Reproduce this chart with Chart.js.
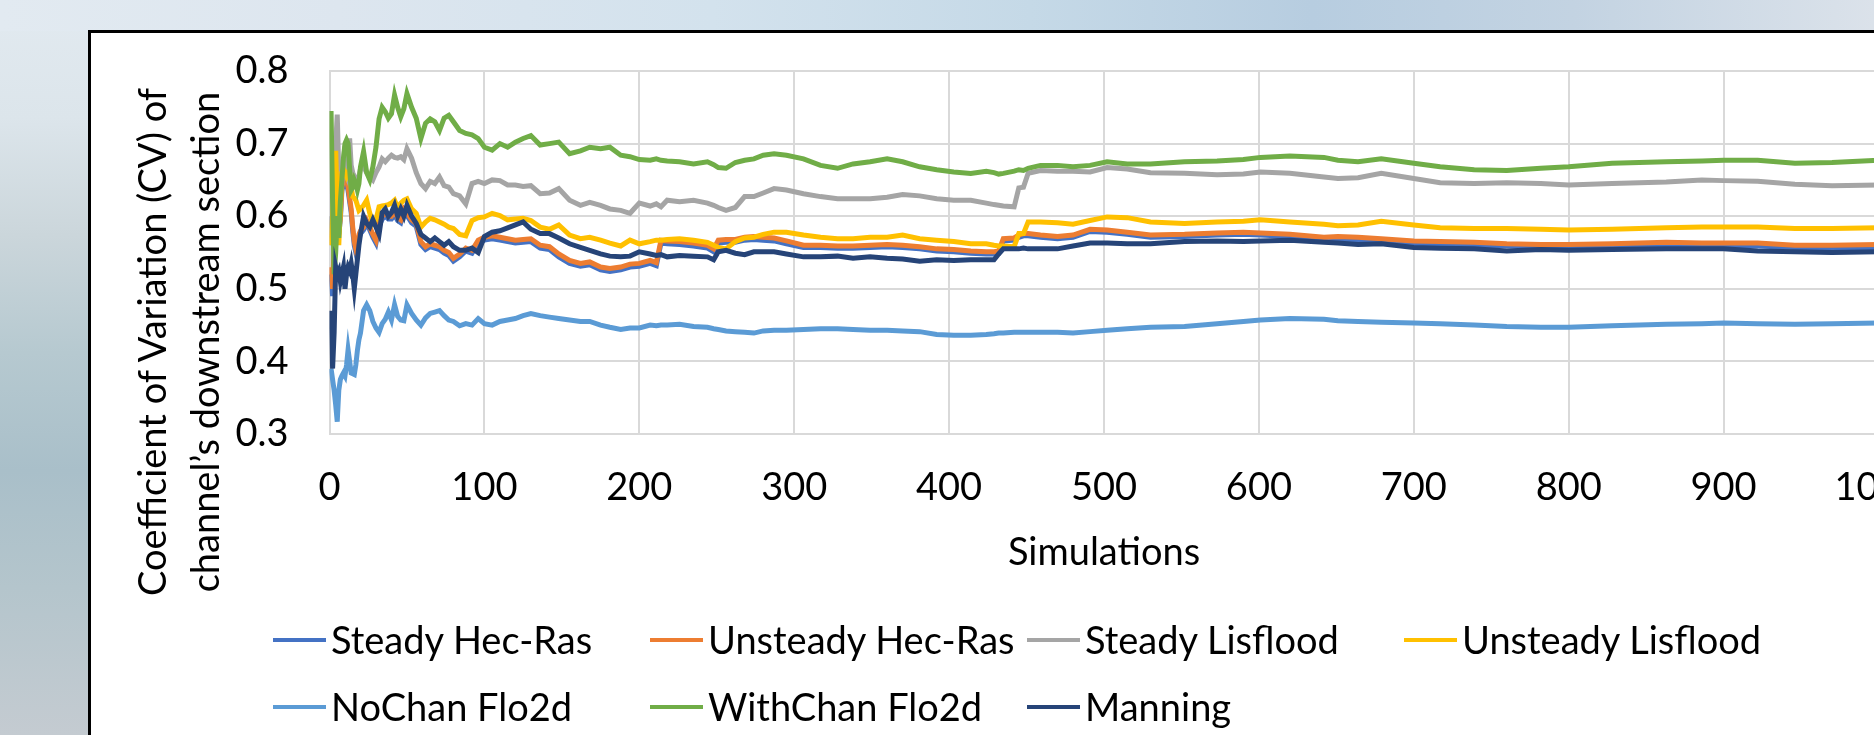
<!DOCTYPE html>
<html>
<head>
<meta charset="utf-8">
<title>CV of channel's downstream section</title>
<script src="https://cdn.jsdelivr.net/npm/chart.js@4.4.0/dist/chart.umd.min.js"></script>
<style>
  html, body { margin: 0; padding: 0; width: 1874px; height: 735px; overflow: hidden; }
  body {
    position: relative;
    font-family: Lato, "Open Sans", sans-serif;
    background:
      linear-gradient(to right, #e2eaf1 0%, #dde6ef 18%, #d3e2ed 38%, #c5d9e7 55%, #b7cde0 70%, #c3d3e2 84%, #dbe2ea 100%) top left / 100% 31px no-repeat,
      linear-gradient(to bottom, #e2eaf0 0%, #dce5eb 16%, #cbd6db 32%, #b6c9d0 48%, #a9bfc9 64%, #b4c5cc 80%, #c4cbd1 100%);
  }
  #frame {
    position: absolute; left: 88px; top: 30px; width: 1900px; height: 800px;
    background: #fff; border: 3px solid #000; box-sizing: border-box;
  }
  #cv-chart { position: absolute; left: 0; top: 0; }
  .axis-title {
    position: absolute; width: 800px; height: 38px; line-height: 38px;
    font-size: 38px; color: #000; text-align: center; white-space: nowrap;
    transform: rotate(-90deg);
  }
  .legend-mark { position: absolute; width: 53px; height: 4px; }
  .legend-text {
    position: absolute; height: 38px; line-height: 38px; font-size: 38px;
    color: #000; white-space: nowrap;
  }
</style>
</head>
<body>
<div id="frame"></div>
<canvas id="cv-chart" width="1960" height="735"></canvas>
<div id="overlay"></div>
<script>
// Number of simulations at which the running CV was sampled
const simulations = [
  1, 2, 3, 4, 5, 6, 7, 8, 9, 10, 11, 12, 13, 14, 15, 16, 17, 18, 19, 20,
  22, 24, 26, 28, 30, 32, 34, 36, 38, 40, 42, 44, 46, 48, 50,
  53, 56, 59, 62, 65, 68, 71, 74, 77, 80, 84, 88, 92, 96, 100,
  105, 110, 115, 120, 125,
  130, 136, 142, 148, 155, 162, 168, 175, 181, 188, 194, 200, 207, 211, 214,
  218, 226, 235, 244, 248, 251, 256, 262, 268, 274, 280, 287, 295, 306, 317,
  328, 338, 349, 360, 370, 381, 392, 403, 414, 424, 429, 432, 435, 442, 445,
  448, 451, 459, 470, 480, 491, 502, 515, 530, 552, 573, 590, 601, 620, 642,
  651, 664, 679, 700, 717, 739, 760, 782, 800, 828, 863, 886, 900, 922, 946,
  970, 1000
];

const steadyHecRas = [
  0.52, 0.49, 0.55, 0.595, 0.615, 0.575, 0.595, 0.635, 0.645, 0.65,
  0.645, 0.635, 0.62, 0.605, 0.58, 0.56, 0.55, 0.555, 0.57, 0.576,
  0.581, 0.59, 0.581, 0.571, 0.563, 0.586, 0.596, 0.6, 0.596, 0.596,
  0.602, 0.594, 0.591, 0.606, 0.601, 0.591, 0.586, 0.561, 0.554, 0.558,
  0.556, 0.554, 0.549, 0.546, 0.538, 0.544, 0.552, 0.549, 0.563, 0.567,
  0.569, 0.567, 0.565, 0.563, 0.564,
  0.565, 0.556, 0.554, 0.544, 0.535, 0.531, 0.533, 0.526, 0.524, 0.526,
  0.53, 0.531, 0.535, 0.532, 0.563, 0.562, 0.561, 0.559, 0.556, 0.551,
  0.563, 0.564, 0.564, 0.567, 0.568, 0.567, 0.566, 0.562, 0.557, 0.557,
  0.556, 0.556, 0.557, 0.558, 0.557, 0.555, 0.552, 0.551, 0.549, 0.548,
  0.548, 0.549, 0.566, 0.567, 0.571, 0.573, 0.573, 0.571, 0.569, 0.571,
  0.579, 0.578, 0.575, 0.571, 0.572, 0.574, 0.575, 0.574, 0.572, 0.568,
  0.569, 0.567, 0.565, 0.562, 0.561, 0.56, 0.559, 0.558, 0.558, 0.559,
  0.56, 0.56, 0.559, 0.559, 0.557, 0.557, 0.557
];

const unsteadyHecRas = [
  0.53, 0.5, 0.56, 0.6, 0.62, 0.58, 0.6, 0.64, 0.65, 0.655,
  0.65, 0.64, 0.625, 0.61, 0.585, 0.565, 0.555, 0.56, 0.575, 0.58,
  0.585, 0.594, 0.585, 0.575, 0.567, 0.59, 0.6, 0.604, 0.6, 0.6,
  0.606, 0.598, 0.595, 0.61, 0.605, 0.595, 0.59, 0.565, 0.558, 0.562,
  0.56, 0.558, 0.553, 0.55, 0.542, 0.548, 0.556, 0.553, 0.567, 0.571,
  0.573, 0.571, 0.569, 0.567, 0.568,
  0.569, 0.56, 0.558, 0.548, 0.539, 0.535, 0.537, 0.53, 0.528, 0.53,
  0.534, 0.535, 0.539, 0.536, 0.567, 0.566, 0.565, 0.563, 0.56, 0.555,
  0.567, 0.568, 0.568, 0.571, 0.572, 0.571, 0.57, 0.566, 0.56, 0.56,
  0.559, 0.559, 0.56, 0.561, 0.56, 0.558, 0.555, 0.554, 0.552, 0.551,
  0.551, 0.552, 0.569, 0.57, 0.574, 0.576, 0.576, 0.574, 0.572, 0.574,
  0.582, 0.581, 0.578, 0.574, 0.575, 0.577, 0.578, 0.577, 0.575, 0.571,
  0.572, 0.571, 0.569, 0.566, 0.565, 0.564, 0.562, 0.561, 0.561, 0.562,
  0.564, 0.563, 0.563, 0.563, 0.56, 0.56, 0.561
];

const steadyLisflood = [
  0.6, 0.56, 0.65, 0.7, 0.74, 0.66, 0.63, 0.645, 0.672, 0.66,
  0.655, 0.69, 0.707, 0.67, 0.66, 0.655, 0.65, 0.648, 0.655, 0.665,
  0.668, 0.66, 0.655, 0.65, 0.66, 0.668, 0.679, 0.675, 0.68, 0.684,
  0.681, 0.68, 0.682, 0.678, 0.693, 0.68, 0.66, 0.645, 0.638, 0.648,
  0.645, 0.654, 0.642, 0.64, 0.631, 0.628, 0.617, 0.645, 0.648, 0.645,
  0.65, 0.649, 0.643, 0.643, 0.641,
  0.642, 0.631, 0.632, 0.638, 0.622, 0.615, 0.619, 0.615, 0.61, 0.608,
  0.604, 0.618, 0.614, 0.617, 0.613, 0.622, 0.62, 0.622, 0.618, 0.615,
  0.612, 0.608, 0.612, 0.627, 0.627, 0.632, 0.638, 0.636, 0.631, 0.627,
  0.624, 0.624, 0.624, 0.626, 0.63, 0.628, 0.624, 0.622, 0.622, 0.618,
  0.616, 0.615, 0.614, 0.613, 0.639, 0.64, 0.659, 0.663, 0.662, 0.662,
  0.661, 0.667, 0.665, 0.66, 0.659, 0.657, 0.658, 0.661, 0.659, 0.654,
  0.652, 0.653, 0.659, 0.652, 0.646, 0.645, 0.646, 0.645, 0.643, 0.645,
  0.647, 0.65, 0.649, 0.648, 0.644, 0.642, 0.643
];

const unsteadyLisflood = [
  0.56, 0.6, 0.66, 0.69, 0.62, 0.56, 0.61, 0.66, 0.665, 0.66,
  0.655, 0.66, 0.659, 0.64, 0.627, 0.625, 0.622, 0.615, 0.608, 0.61,
  0.615, 0.622, 0.604, 0.59, 0.595, 0.613, 0.614, 0.615, 0.616, 0.618,
  0.622, 0.612, 0.618, 0.622, 0.624, 0.61, 0.604, 0.585, 0.592, 0.597,
  0.595, 0.592, 0.589, 0.585, 0.583, 0.575, 0.573, 0.594, 0.598, 0.599,
  0.604, 0.601, 0.595, 0.596, 0.597,
  0.594, 0.585, 0.582, 0.588, 0.574, 0.569, 0.571, 0.567, 0.563, 0.559,
  0.567, 0.562, 0.565, 0.567, 0.567, 0.568, 0.569, 0.567, 0.564, 0.56,
  0.557, 0.555, 0.565, 0.57, 0.571, 0.575, 0.578, 0.578, 0.574, 0.571,
  0.569, 0.569, 0.571, 0.571, 0.574, 0.569, 0.567, 0.565, 0.562, 0.562,
  0.56, 0.559, 0.559, 0.558, 0.576, 0.576, 0.592, 0.592, 0.591, 0.589,
  0.594, 0.599, 0.598, 0.592, 0.59, 0.592, 0.593, 0.595, 0.592, 0.589,
  0.587, 0.588, 0.593, 0.588, 0.584, 0.583, 0.583, 0.582, 0.581, 0.582,
  0.584, 0.585, 0.585, 0.585, 0.583, 0.583, 0.584
];

const noChanFlo2d = [
  0.39, 0.375, 0.36, 0.34, 0.317, 0.36, 0.375, 0.38, 0.384, 0.38,
  0.395, 0.416, 0.4, 0.384, 0.383, 0.382, 0.395, 0.415, 0.43, 0.439,
  0.47, 0.478, 0.47, 0.455, 0.446, 0.44, 0.452, 0.458, 0.468, 0.457,
  0.478, 0.462, 0.457, 0.456, 0.478, 0.466, 0.457, 0.45, 0.46, 0.466,
  0.468, 0.47, 0.463, 0.457, 0.455, 0.449, 0.452, 0.45, 0.459, 0.452,
  0.45, 0.455, 0.457, 0.459, 0.463,
  0.466, 0.463, 0.461, 0.459, 0.457, 0.455, 0.455, 0.45, 0.447, 0.444,
  0.446, 0.446, 0.45, 0.449, 0.45, 0.45, 0.451, 0.448, 0.447, 0.445,
  0.444, 0.442, 0.441, 0.44, 0.439, 0.442, 0.443, 0.443, 0.444, 0.445,
  0.445, 0.444, 0.443, 0.443, 0.442, 0.441, 0.437, 0.436, 0.436, 0.437,
  0.438, 0.439, 0.439, 0.44, 0.44, 0.44, 0.44, 0.44, 0.44, 0.439,
  0.441, 0.443, 0.445, 0.447, 0.448, 0.452, 0.455, 0.457, 0.459, 0.458,
  0.456, 0.455, 0.454, 0.453, 0.452, 0.45, 0.448, 0.447, 0.447, 0.449,
  0.451, 0.452, 0.453, 0.452, 0.451, 0.452, 0.453
];

const withChanFlo2d = [
  0.745, 0.62, 0.52, 0.55, 0.6, 0.57, 0.62, 0.65, 0.68, 0.7,
  0.705, 0.7, 0.665, 0.636, 0.64, 0.65, 0.645, 0.636, 0.645, 0.668,
  0.689, 0.66, 0.65, 0.668, 0.695, 0.734, 0.75, 0.744, 0.735, 0.741,
  0.767, 0.75, 0.737, 0.748, 0.769, 0.75, 0.735, 0.707, 0.728, 0.734,
  0.73, 0.718, 0.735, 0.739, 0.73, 0.718, 0.714, 0.712, 0.707, 0.695,
  0.691, 0.7, 0.695, 0.702, 0.707,
  0.711, 0.698, 0.7, 0.702, 0.686, 0.69, 0.695, 0.693, 0.695, 0.684,
  0.682, 0.678, 0.677, 0.679, 0.677, 0.676, 0.675, 0.672, 0.675, 0.671,
  0.667, 0.666, 0.674, 0.677, 0.679, 0.684, 0.686, 0.684, 0.679, 0.67,
  0.666, 0.672, 0.675, 0.679, 0.675, 0.668, 0.664, 0.661, 0.659, 0.662,
  0.66, 0.658, 0.659, 0.662, 0.664, 0.663, 0.666, 0.67, 0.67, 0.668,
  0.67, 0.675, 0.672, 0.672, 0.675, 0.676, 0.678, 0.681, 0.683, 0.681,
  0.677, 0.675, 0.679, 0.673, 0.668, 0.664, 0.663, 0.666, 0.668, 0.673,
  0.675, 0.676, 0.677, 0.677, 0.673, 0.674, 0.677
];

const manning = [
  0.47, 0.39, 0.44, 0.53, 0.52, 0.525, 0.51, 0.52, 0.53, 0.5,
  0.52, 0.53, 0.525, 0.535, 0.52, 0.5, 0.52, 0.54, 0.56, 0.575,
  0.6, 0.59, 0.585, 0.595, 0.585, 0.575, 0.605, 0.61, 0.6, 0.605,
  0.615, 0.6, 0.61, 0.6, 0.615, 0.6, 0.59, 0.575, 0.57, 0.565,
  0.57, 0.565, 0.56, 0.565, 0.558, 0.553, 0.553, 0.556, 0.55, 0.572,
  0.578, 0.58, 0.584, 0.588, 0.592,
  0.582, 0.576, 0.576, 0.57, 0.562, 0.557, 0.553, 0.548, 0.545, 0.544,
  0.545, 0.551, 0.548, 0.546, 0.547, 0.544, 0.546, 0.545, 0.544, 0.54,
  0.551, 0.553, 0.549, 0.547, 0.551, 0.551, 0.551, 0.548, 0.544, 0.544,
  0.545, 0.542, 0.544, 0.542, 0.541, 0.538, 0.54, 0.539, 0.54, 0.54,
  0.54, 0.548, 0.555, 0.555, 0.555, 0.556, 0.555, 0.555, 0.555, 0.559,
  0.563, 0.563, 0.562, 0.562, 0.565, 0.566, 0.565, 0.566, 0.567, 0.564,
  0.563, 0.561, 0.562, 0.557, 0.556, 0.555, 0.552, 0.554, 0.553, 0.554,
  0.555, 0.555, 0.555, 0.552, 0.551, 0.55, 0.551
];

const seriesLabels = [
  'Steady Hec-Ras', 'Unsteady Hec-Ras', 'Steady Lisflood', 'Unsteady Lisflood',
  'NoChan Flo2d', 'WithChan Flo2d', 'Manning'
];
const seriesValues = [
  steadyHecRas, unsteadyHecRas, steadyLisflood, unsteadyLisflood,
  noChanFlo2d, withChanFlo2d, manning
];
const seriesColors = ['#4472C4', '#ED7D31', '#A5A5A5', '#FFC000', '#5B9BD5', '#70AD47', '#264478'];

const simulationTicks = [0, 100, 200, 300, 400, 500, 600, 700, 800, 900, 1000];
const cvTicks = [0.3, 0.4, 0.5, 0.6, 0.7, 0.8];

const yTitleLines = ['Coefficient of Variation (CV) of', 'channel\u2019s downstream section'];
const xTitle = 'Simulations';

const textFont = { family: 'Lato', size: 38 };
const gridColor = '#d9d9d9';

const datasets = seriesLabels.map((label, i) => ({
  label,
  data: simulations.map((s, j) => ({ x: s, y: seriesValues[i][j] })),
  borderColor: seriesColors[i],
  backgroundColor: seriesColors[i],
  borderWidth: 5,
  pointRadius: 0,
  tension: 0,
  // later series are painted over earlier ones
  order: seriesLabels.length - 1 - i
}));

const chart = new Chart(document.getElementById('cv-chart'), {
  type: 'line',
  data: { datasets },
  options: {
    responsive: false,
    animation: false,
    devicePixelRatio: 1,
    layout: { padding: { left: 0, top: 71, right: 81.5, bottom: 0 } },
    plugins: { legend: { display: false }, tooltip: { enabled: false } },
    scales: {
      x: {
        type: 'linear',
        min: 0, max: 1000,
        afterBuildTicks: (scale) => { scale.ticks = simulationTicks.map(v => ({ value: v })); },
        afterFit: (scale) => { scale.height = 301; },
        ticks: {
          font: textFont, color: '#000', padding: 31, maxRotation: 0, autoSkip: false,
          callback: (v) => String(v)
        },
        grid: { color: gridColor, lineWidth: 2, drawTicks: false },
        border: { color: gridColor, width: 2 },
        title: { display: true, text: xTitle, font: textFont, color: '#000', padding: { top: 0, bottom: 159 } }
      },
      y: {
        min: 0.3, max: 0.8,
        afterBuildTicks: (scale) => { scale.ticks = cvTicks.map(v => ({ value: v })); },
        afterFit: (scale) => { scale.width = 329.5; },
        ticks: { font: textFont, color: '#000', padding: 41, callback: (v) => Number(v).toFixed(1) },
        grid: { color: gridColor, lineWidth: 2, drawTicks: false },
        border: { color: gridColor, width: 2 }
      }
    }
  }
});

// Rotated two-line title for the value axis
const overlay = document.getElementById('overlay');
const yTitleCenters = [151.3, 204.3];
yTitleLines.forEach((line, i) => {
  const el = document.createElement('div');
  el.className = 'axis-title';
  el.textContent = line;
  el.style.left = (yTitleCenters[i] - 400) + 'px';
  el.style.top = (342 - 19) + 'px';
  overlay.appendChild(el);
});

// Legend laid out in a four-column grid below the plot
const legendColumns = [273, 650, 1027, 1404];
const legendRows = [640, 707];
chart.data.datasets.forEach((ds, i) => {
  const col = legendColumns[i % 4];
  const rowY = legendRows[Math.floor(i / 4)];
  const mark = document.createElement('div');
  mark.className = 'legend-mark';
  mark.style.background = ds.borderColor;
  mark.style.left = col + 'px';
  mark.style.top = (rowY - 2) + 'px';
  overlay.appendChild(mark);
  const txt = document.createElement('div');
  txt.className = 'legend-text';
  txt.textContent = ds.label;
  txt.style.left = (col + 58) + 'px';
  txt.style.top = (rowY - 19.7) + 'px';
  overlay.appendChild(txt);
});
</script>
</body>
</html>
